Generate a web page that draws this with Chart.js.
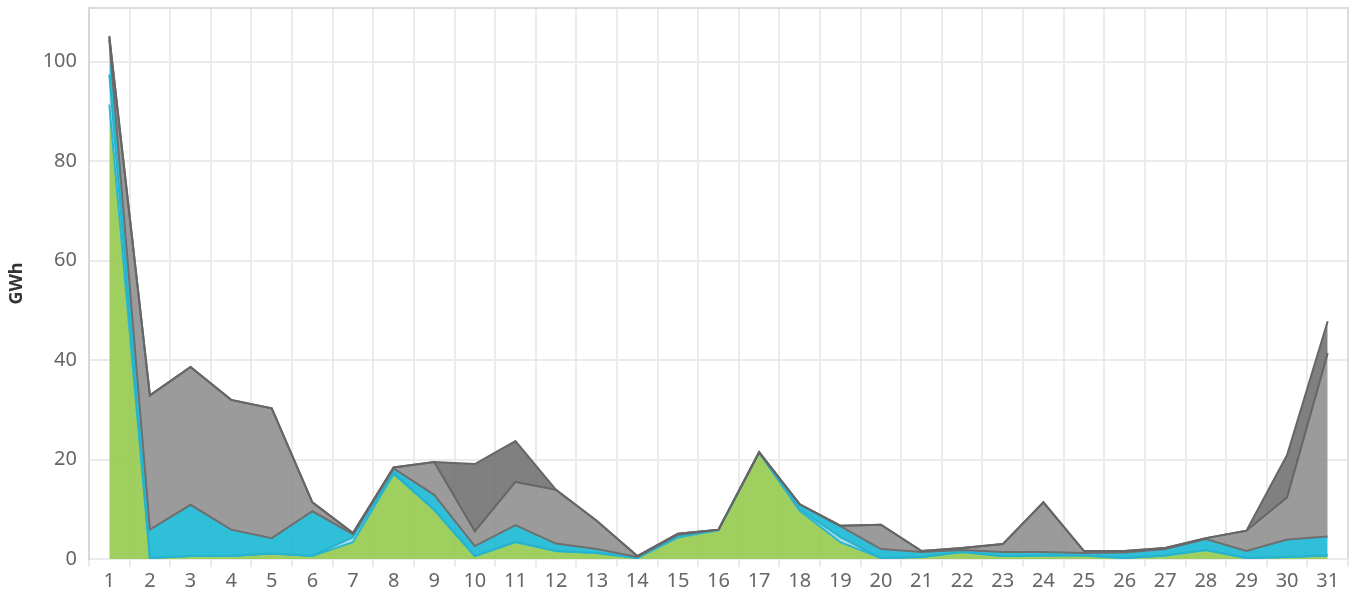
<!DOCTYPE html>
<html>
<head>
<meta charset="utf-8">
<script src="https://cdn.jsdelivr.net/npm/chart.js@4"></script>
<style>
  html, body { margin: 0; padding: 0; background: #fff; }
  #wrap { width: 1356px; height: 593px; }
</style>
</head>
<body>
<div id="wrap"><canvas id="gwhChart"></canvas></div>
<script>
// hari dalam bulan
const days = Array.from({ length: 31 }, (_, i) => String(i + 1));

// nilai per lapisan (GWh), dari bawah ke atas
const greenVals = [91.4, 0.2, 0.6, 0.6, 1.1, 0.6, 3.4, 17.1, 9.9, 0.6, 3.4, 1.6, 1.2, 0.2, 4.3, 5.8,
  21.4, 9.7, 3.4, 0.2, 0.4, 1.4, 0.6, 0.7, 0.7, 0.2, 0.7, 1.8, 0.2, 0.4, 0.7];
const lightVals = [6, 0, 0, 0, 0, 0, 1.0, 0.3, 0, 0, 0, 0, 0, 0, 0.3, 0,
  0, 0.3, 1.0, 0, 0, 0, 0, 0, 0, 0, 0, 0, 0, 0, 0];
const cyanVals = [7, 5.7, 10.3, 5.3, 3.1, 9.0, 0.6, 0.8, 3.0, 2.0, 3.4, 1.5, 0.8, 0.2, 0.3, 0.1,
  0, 1.0, 2.2, 1.8, 1.0, 0.4, 0.8, 0.7, 0.5, 1.1, 1.3, 2.2, 1.4, 3.5, 3.8];
const grayVals = [0.5, 27, 27.7, 26.1, 26.1, 1.8, 0.2, 0.2, 6.6, 3.0, 8.7, 10.8, 5.7, 0.2, 0.2, 0,
  0.1, 0, 0.1, 4.9, 0.2, 0.4, 1.6, 10.0, 0.4, 0.3, 0.2, 0.2, 4.1, 8.5, 36.9];
const darkVals = [0.3, 0, 0, 0, 0, 0, 0, 0, 0, 13.5, 8.2, 0, 0, 0, 0, 0,
  0, 0, 0, 0, 0, 0, 0, 0, 0, 0, 0, 0, 0, 8.5, 6.4];

const yTicks = [0, 20, 40, 60, 80, 100];

// gambar dataset dari bawah ke atas (garis lapisan atas menimpa)
const bottomUp = {
  id: 'bottomUp',
  beforeDatasetsDraw(chart) {
    chart.getSortedVisibleDatasetMetas().forEach(m => chart._drawDataset(m));
    return false;
  }
};

// bingkai atas & kanan
const frame = {
  id: 'frame',
  beforeDatasetsDraw(chart) {
    const { ctx, chartArea: a } = chart;
    ctx.save();
    ctx.strokeStyle = '#dcdcdc';
    ctx.lineWidth = 2;
    ctx.beginPath();
    ctx.moveTo(a.left, a.top);
    ctx.lineTo(a.right, a.top);
    ctx.lineTo(a.right, a.bottom);
    ctx.stroke();
    ctx.restore();
  }
};

function layer(label, data, fill, border, fillMode) {
  return {
    label,
    data,
    backgroundColor: fill,
    borderColor: border,
    borderWidth: 2,
    fill: fillMode,
    tension: 0,
    pointRadius: 0
  };
}

new Chart(document.getElementById('gwhChart'), {
  type: 'line',
  data: {
    labels: days,
    datasets: [
      layer('A', greenVals, 'rgba(148,202,78,0.9)', '#2bb6d0', 'origin'),
      layer('B', lightVals, 'rgba(167,217,231,0.9)', '#25b3cf', '-1'),
      layer('C', cyanVals, 'rgba(24,184,212,0.9)', '#6f6f6f', '-1'),
      layer('D', grayVals, 'rgba(144,144,144,0.9)', '#666666', '-1'),
      layer('E', darkVals, 'rgba(114,114,114,0.9)', '#666666', '-1')
    ]
  },
  options: {
    responsive: true,
    maintainAspectRatio: false,
    animation: false,
    layout: { padding: { top: 8, right: 8, left: 0, bottom: 0 } },
    plugins: {
      legend: { display: false },
      tooltip: { enabled: false },
      filler: { drawTime: 'beforeDatasetsDraw' }
    },
    scales: {
      x: {
        offset: true,
        grid: { offset: true, color: '#ebebeb', lineWidth: 2, tickLength: 8, drawTicks: true },
        border: { display: false },
        ticks: {
          color: '#666',
          font: { family: 'Noto Sans', size: 20 },
          padding: 2,
          maxRotation: 0,
          autoSkip: false
        },
        afterFit: s => { s.height = 34; }
      },
      y: {
        stacked: true,
        min: 0,
        max: 110.8,
        afterBuildTicks: s => { s.ticks = yTicks.map(v => ({ value: v })); },
        grid: { color: '#ebebeb', lineWidth: 2, drawTicks: false },
        border: { color: '#d6d6d6', width: 2 },
        ticks: {
          color: '#666',
          font: { family: 'Noto Sans', size: 20 },
          padding: 12
        },
        title: {
          display: true,
          text: 'GWh',
          color: '#333',
          font: { family: 'Noto Sans', size: 18, weight: 'bold' },
          padding: { top: 6, bottom: 0 }
        },
        afterFit: s => { s.width = 89; s.paddingTop = 0; s.paddingBottom = 0; }
      }
    }
  },
  plugins: [frame, bottomUp]
});
</script>
</body>
</html>
